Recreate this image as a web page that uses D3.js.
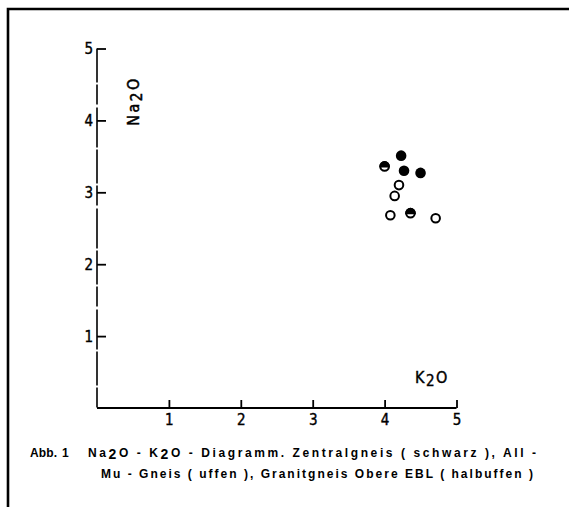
<!DOCTYPE html>
<html><head><meta charset="utf-8">
<script src="https://cdn.jsdelivr.net/npm/d3@7"></script>
<style>
html,body{margin:0;padding:0;background:#fff;}
svg{display:block;}
.lab{font-family:"DejaVu Sans Condensed","Liberation Sans Narrow","Liberation Sans",sans-serif;}
.cap{font-family:"Liberation Sans","Arial",sans-serif;font-weight:bold;}
</style></head>
<body>
<script>
// Data
const xTicks = [1, 2, 3, 4, 5];
const yTicks = [1, 2, 3, 4, 5];
const zentralK2O = [4.23, 4.27, 4.50];
const zentralNa2O = [3.51, 3.30, 3.27];
const offenK2O = [4.20, 4.14, 4.08, 4.71];
const offenNa2O = [3.10, 2.95, 2.68, 2.64];
const halbK2O = [4.00, 4.36];
const halbNa2O = [3.36, 2.71];

const W = 569, H = 507;
const svg = d3.select("body").append("svg").attr("width", W).attr("height", H);

// frame
svg.append("path").attr("d", "M8,507 V9 H569").attr("fill", "none").attr("stroke", "#000").attr("stroke-width", 2.6);

const x = d3.scaleLinear().domain([0, 5]).range([97, 456.5]);
const y = d3.scaleLinear().domain([0, 5]).range([408, 48.5]);

// x axis
const xg = svg.append("g").attr("transform", `translate(0,${y(0)})`);
xg.call(d3.axisTop(x).tickValues(xTicks).tickSize(8).tickFormat(""));
xg.select(".domain").attr("d", `M${x(0)},0H${x(5)}`).attr("stroke-width", 2);
xg.selectAll(".tick line").attr("stroke-width", 1.8);
xg.selectAll(".tick").append("text").attr("class", "lab").attr("y", 17)
  .attr("text-anchor", "middle").attr("font-size", 15).attr("fill", "#000")
  .attr("stroke", "#000").attr("stroke-width", 0.4).text(d => d);

// y axis
const yg = svg.append("g").attr("transform", `translate(${x(0)},0)`);
yg.call(d3.axisRight(y).tickValues(yTicks).tickSize(9).tickFormat(""));
yg.select(".domain").attr("d", `M0,${y(5)}V${y(0)}`).attr("stroke-width", 1.6)
  .attr("stroke-dasharray", "34,2,20,3,40,2");
yg.selectAll(".tick line").attr("stroke-width", 1.8);
yg.selectAll(".tick").append("text").attr("class", "lab").attr("x", -4).attr("dy", "0.35em")
  .attr("text-anchor", "end").attr("font-size", 15).attr("fill", "#000")
  .attr("stroke", "#000").attr("stroke-width", 0.4).text(d => d);

// axis labels
const na = svg.append("text").attr("class", "lab").attr("font-size", 16).attr("letter-spacing", 2.5)
  .attr("stroke", "#000").attr("stroke-width", 0.5)
  .attr("transform", "translate(139,101) rotate(-90)").attr("text-anchor", "middle");
na.append("tspan").text("Na");
na.append("tspan").attr("dy", 3).attr("font-size", 15).text("2");
na.append("tspan").attr("dy", -3).text("O");

const k = svg.append("text").attr("class", "lab").attr("font-size", 16).attr("letter-spacing", 1.5)
  .attr("stroke", "#000").attr("stroke-width", 0.4)
  .attr("x", 432).attr("y", 383).attr("text-anchor", "middle");
k.append("tspan").text("K");
k.append("tspan").attr("dy", 3).attr("font-size", 15).text("2");
k.append("tspan").attr("dy", -3).text("O");

// points
const g = svg.append("g");
const defs = svg.append("defs");
g.selectAll("circle.z").data(zentralK2O.map((v, i) => [v, zentralNa2O[i]])).join("circle")
  .attr("class", "z").attr("cx", d => x(d[0])).attr("cy", d => y(d[1])).attr("r", 5.3).attr("fill", "#000");
g.selectAll("circle.o").data(offenK2O.map((v, i) => [v, offenNa2O[i]])).join("circle")
  .attr("class", "o").attr("cx", d => x(d[0])).attr("cy", d => y(d[1])).attr("r", 4.3)
  .attr("fill", "#fff").attr("stroke", "#000").attr("stroke-width", 2);
const halbData = halbK2O.map((v, i) => [v, halbNa2O[i]]);
halbData.forEach((d, i) => {
  const cx = x(d[0]), cy = y(d[1]);
  defs.append("clipPath").attr("id", "hc" + i).append("rect")
    .attr("x", cx - 6).attr("y", cy - 6).attr("width", 12).attr("height", 7);
  g.append("circle").attr("cx", cx).attr("cy", cy).attr("r", 4.3)
    .attr("fill", "#fff").attr("stroke", "#000").attr("stroke-width", 2);
  g.append("circle").attr("cx", cx).attr("cy", cy).attr("r", 5.3)
    .attr("fill", "#000").attr("clip-path", `url(#hc${i})`);
});

// caption
svg.append("text").attr("class", "cap").attr("font-size", 12).attr("x", 30).attr("y", 457)
  .attr("textLength", 27).attr("lengthAdjust", "spacing").text("Abb.");
svg.append("text").attr("class", "cap").attr("font-size", 12).attr("x", 62).attr("y", 457).text("1");
const c2 = svg.append("text").attr("class", "cap").attr("font-size", 12).attr("x", 88).attr("y", 457)
  .attr("textLength", 448).attr("lengthAdjust", "spacing");
c2.append("tspan").text("Na");
c2.append("tspan").attr("dy", 2).attr("font-size", 14).text("2");
c2.append("tspan").attr("dy", -2).text("O - K");
c2.append("tspan").attr("dy", 2).attr("font-size", 14).text("2");
c2.append("tspan").attr("dy", -2).text("O - Diagramm.  Zentralgneis  ( schwarz ), All -");
svg.append("text").attr("class", "cap").attr("font-size", 12).attr("x", 101).attr("y", 478)
  .attr("textLength", 432).attr("lengthAdjust", "spacing")
  .text("Mu - Gneis ( uffen ), Granitgneis  Obere EBL  ( halbuffen )");
</script>
</body></html>
